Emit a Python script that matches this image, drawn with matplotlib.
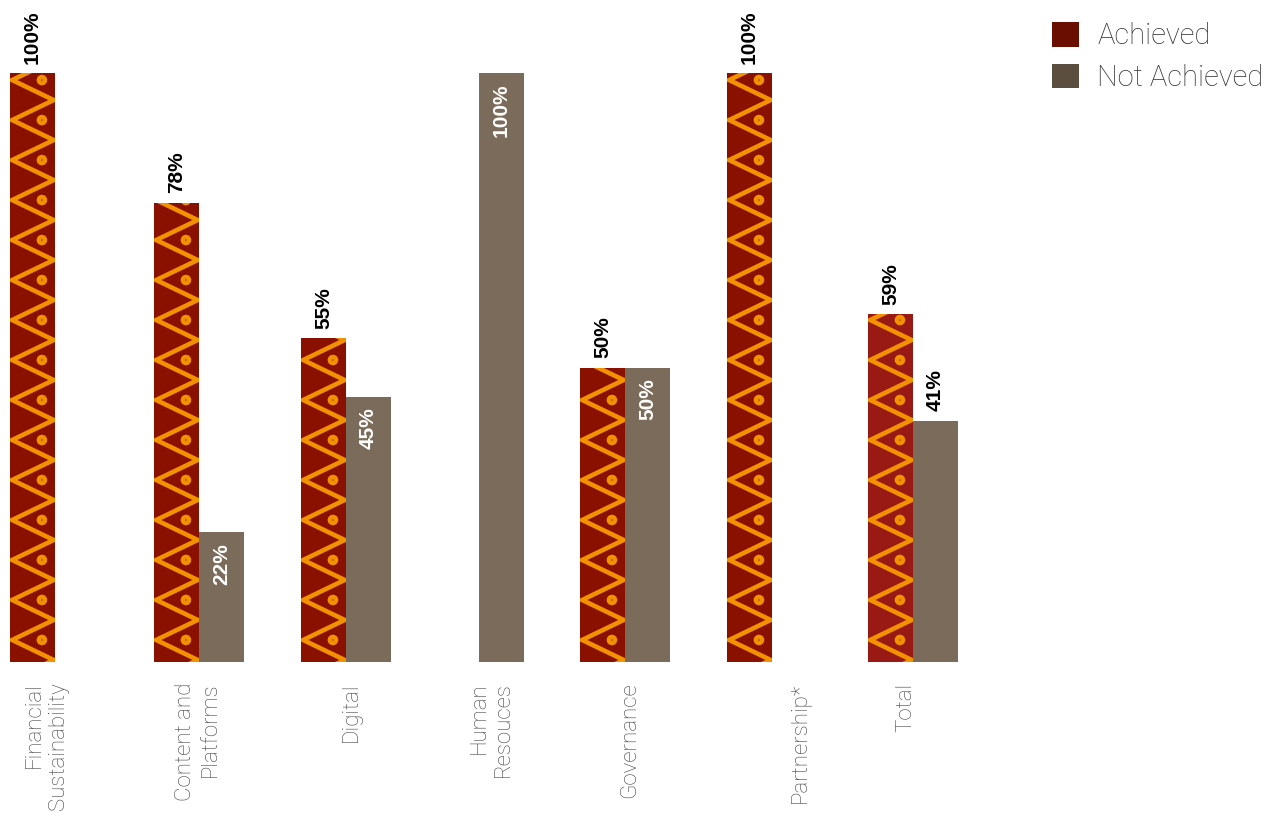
import numpy as np
import matplotlib.pyplot as plt
from matplotlib.patches import Patch

categories = ['Financial\nSustainability', 'Content and\nPlatforms', 'Digital',
              'Human\nResouces', 'Governance', 'Partnership*', 'Total']
achieved = [100, 78, 55, 0, 50, 100, 59]
not_achieved = [0, 22, 45, 100, 50, 0, 41]

# styling
RED = '#8a1000'
RED_TOTAL = '#991a15'
TAUPE = '#7b6b5a'
ORANGE = '#f39200'
BAR_W = 0.315
PERIOD = 6.79          # zigzag period in percent units
PHASE = 98.8           # a left vertex of the zigzag sits here
STEP = 143             # pixels between category slots
BAR_SHIFT = np.array([0, 1, 5, -5, -2, 2, 0]) / STEP
LABEL_SHIFT = np.array([-9, 0, 10, 7, 3, 30, -7]) / STEP

fig = plt.figure(figsize=(12.74, 8.18), dpi=100)
ax = fig.add_axes([0, 156 / 818, 1, 589 / 818])
ax.set_xlim(-55 / STEP, (1274 - 55) / STEP)
ax.set_ylim(0, 100)
ax.axis('off')

x = np.arange(len(categories)) + BAR_SHIFT


def draw_pattern(bar):
    x0 = bar.get_x()
    w = bar.get_width()
    h = bar.get_height()
    ks = np.arange(-1, int(100 / PERIOD) + 3)
    ys = []
    xs = []
    for k in ks:
        yl = PHASE - k * PERIOD
        xs += [x0 + 0.05 * w, x0 + 0.97 * w]
        ys += [yl, yl - PERIOD / 2]
    line, = ax.plot(xs, ys, color=ORANGE, lw=3.3, solid_joinstyle='miter')
    line.set_clip_path(bar)
    dot_y = PHASE - ks * PERIOD
    dot_y = dot_y[(dot_y > -2) & (dot_y < h + 2)]
    dots = ax.scatter([x0 + 0.71 * w] * len(dot_y), dot_y, s=58, color=ORANGE,
                      edgecolors='none', zorder=3)
    dots.set_clip_path(bar)
    centers = ax.scatter([x0 + 0.71 * w] * len(dot_y), dot_y, s=3, color='#c86a00',
                         edgecolors='none', zorder=4)
    centers.set_clip_path(bar)


val_font = dict(family='Liberation Sans', weight='bold',
                fontsize=15, rotation=90, ha='center')

for i in range(len(categories)):
    if achieved[i] > 0:
        color = RED_TOTAL if categories[i] == 'Total' else RED
        bar = ax.bar(x[i] - BAR_W / 2, achieved[i], BAR_W, color=color,
                     linewidth=0)[0]
        draw_pattern(bar)
        ax.text(x[i] - BAR_W / 2, achieved[i] + 1.6, f'{achieved[i]}%',
                va='bottom', color='black', **val_font)
    if not_achieved[i] > 0:
        ax.bar(x[i] + BAR_W / 2, not_achieved[i], BAR_W, color=TAUPE, linewidth=0)
        if categories[i] == 'Total':
            ax.text(x[i] + BAR_W / 2, not_achieved[i] + 1.6, f'{not_achieved[i]}%',
                    va='bottom', color='black', **val_font)
        else:
            ax.text(x[i] + BAR_W / 2, not_achieved[i] - 1.8, f'{not_achieved[i]}%',
                    va='top', color='white', **val_font)

slots = np.arange(len(categories))
for i, name in enumerate(categories):
    ax.text(slots[i] + LABEL_SHIFT[i], -3.5, name, rotation=90, ha='center', va='top',
            multialignment='right', fontsize=16, family='Roboto', weight='light',
            color='#454545')

handles = [Patch(facecolor='#6a0e00', edgecolor='none', label='Achieved'),
           Patch(facecolor='#5c4e3f', edgecolor='none', label='Not Achieved')]
fig.legend(handles=handles, loc='upper left', bbox_to_anchor=(1052 / 1274, 1 - 22 / 818),
           frameon=False, handlelength=0.93, handleheight=0.93,
           handletextpad=0.62, labelspacing=0.45, borderpad=0, borderaxespad=0,
           prop=dict(family='Roboto', weight='light', size=21), labelcolor='#333333')

fig.savefig('out.png', dpi=100)
